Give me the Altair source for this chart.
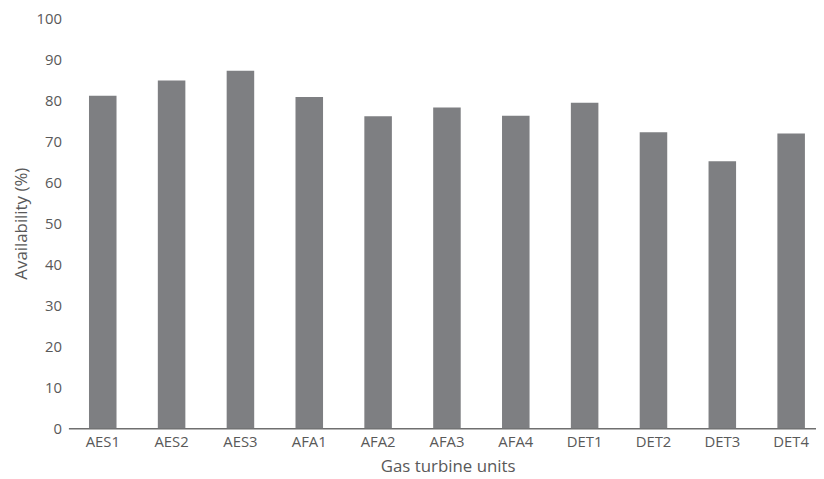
import altair as alt
import pandas as pd

units = ["AES1", "AES2", "AES3", "AFA1", "AFA2", "AFA3", "AFA4", "DET1", "DET2", "DET3", "DET4"]
availability = [81.1, 84.8, 87.2, 80.8, 76.1, 78.2, 76.2, 79.4, 72.2, 65.1, 71.9]
y_ticks = [0, 10, 20, 30, 40, 50, 60, 70, 80, 90, 100]

df = pd.DataFrame({"unit": units, "availability": availability})

FONT = "Open Sans"
GRAY = "#595959"

chart = alt.Chart(df).mark_bar(color="#7e7f82").encode(
    x=alt.X("unit:N", sort=units,
            scale=alt.Scale(paddingInner=0.6, paddingOuter=0.23, align=0.65),
            axis=alt.Axis(title="Gas turbine units", labelAngle=0, ticks=False,
                          domainColor="#6f6f6f", domainWidth=1.5,
                          labelFont=FONT, labelFontSize=15, labelColor=GRAY, labelPadding=7,
                          titleFont=FONT, titleFontSize=17, titleColor=GRAY,
                          titleFontWeight="normal", titlePadding=9,
                          titleX=383, titleAlign="center")),
    y=alt.Y("availability:Q",
            scale=alt.Scale(domain=[0, 100]),
            axis=alt.Axis(title="Availability (%)", values=y_ticks, grid=False,
                          domain=False, ticks=False,
                          labelFont=FONT, labelFontSize=15, labelColor=GRAY, labelPadding=7,
                          titleFont=FONT, titleFontSize=17, titleColor=GRAY,
                          titleFontWeight="normal", titlePadding=6)),
).properties(
    width=755, height=414,
    autosize=alt.AutoSizeParams(type="none"),
    padding={"left": 61, "top": 8, "right": 0, "bottom": 49},
).configure_view(stroke=None)

chart.save("out.html", embed_options={"renderer": "svg", "actions": False})
